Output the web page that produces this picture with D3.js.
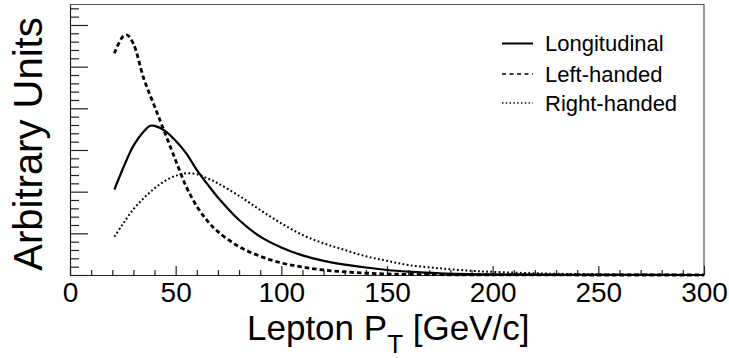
<!DOCTYPE html>
<html lang="en">
<head>
<meta charset="utf-8">
<script src="https://d3js.org/d3.v7.min.js"></script>
<style>
  body { margin: 0; background: #fff; }
  svg text { font-family: "Liberation Sans", Arial, sans-serif; fill: #000; }
</style>
</head>
<body>
<div id="chart"></div>
<script>

// Lepton pT [GeV/c] sample points and the three helicity shapes (arbitrary units)
var ptLong  = [21, 25, 28, 30, 35, 38, 40, 45, 50, 55, 60, 65, 70, 80, 90, 100, 110, 120, 130, 140, 150, 160, 175, 200, 250, 300];
var longitudinal = [2.05, 2.55, 2.9, 3.1, 3.45, 3.58, 3.58, 3.46, 3.22, 2.92, 2.52, 2.18, 1.86, 1.32, 0.92, 0.66, 0.47, 0.34, 0.25, 0.18, 0.12, 0.08, 0.04, 0.015, 0.003, 0];

var ptLeft = [21, 25, 27, 30, 35, 40, 45, 50, 55, 60, 65, 70, 80, 90, 100, 110, 120, 130, 140, 150, 160, 180, 200, 300];
var leftHanded = [5.32, 5.72, 5.76, 5.55, 4.7, 4.05, 3.4, 2.75, 2.12, 1.65, 1.3, 1.04, 0.68, 0.45, 0.29, 0.19, 0.12, 0.075, 0.045, 0.025, 0.015, 0.005, 0.002, 0];

var ptRight = [21, 25, 30, 35, 40, 45, 50, 55, 60, 65, 70, 80, 90, 100, 110, 120, 130, 140, 150, 160, 175, 190, 200, 225, 250, 275, 300];
var rightHanded = [0.92, 1.22, 1.58, 1.85, 2.08, 2.26, 2.38, 2.44, 2.42, 2.32, 2.2, 1.9, 1.56, 1.24, 0.96, 0.76, 0.6, 0.45, 0.34, 0.24, 0.16, 0.1, 0.075, 0.035, 0.015, 0.005, 0.002];

var xMajor = [0, 50, 100, 150, 200, 250, 300];
var legendNames = ["Longitudinal", "Left-handed", "Right-handed"];

var W = 729, H = 358;
var padL = 70, padR = 704, padT = 4.5, padB = 275;

var svg = d3.select("#chart").append("svg")
    .attr("width", W)
    .attr("height", H);

var yMax = (padB - padT) / 41.67;
var x = d3.scaleLinear().domain([0, 300]).range([padL, padR]);
var y = d3.scaleLinear().domain([0, yMax]).range([padB, padT]);

// frame (top and right)
svg.append("path")
    .attr("d", "M" + padL + "," + padT + "H" + padR + "V" + padB)
    .attr("fill", "none")
    .attr("stroke", "#555")
    .attr("stroke-width", 1.2);

// x axis: minor then major ticks
var xMinor = d3.range(0, 301, 10).filter(function(d) { return d % 50 !== 0; });
svg.append("g")
    .attr("transform", "translate(0," + padB + ")")
    .call(d3.axisBottom(x).tickValues(xMinor).tickSize(-5).tickFormat(""))
    .call(function(g) { g.select(".domain").remove(); });

var xAxis = svg.append("g")
    .attr("transform", "translate(0," + padB + ")")
    .call(d3.axisBottom(x).tickValues(xMajor).tickSize(-9).tickSizeOuter(0).tickPadding(7).tickFormat(d3.format("d")));
xAxis.selectAll("text").style("font-size", "28px");

// y axis: no labels, major every 1 unit, 5 minor per major
var yMinor = d3.range(0, yMax, 0.2).filter(function(d) { return Math.abs(d - Math.round(d)) > 0.01; });
svg.append("g")
    .attr("transform", "translate(" + padL + ",0)")
    .call(d3.axisLeft(y).tickValues(yMinor).tickSize(-9).tickFormat(""))
    .call(function(g) { g.select(".domain").remove(); });
svg.append("g")
    .attr("transform", "translate(" + padL + ",0)")
    .call(d3.axisLeft(y).tickValues(d3.range(0, 7)).tickSize(-18).tickSizeOuter(0).tickFormat(""));

svg.selectAll(".domain, .tick line").attr("stroke", "#222").attr("stroke-width", 1.2);

// curves
var series = [
  { xs: ptLong, ys: longitudinal, dash: null, width: 2.2 },
  { xs: ptLeft, ys: leftHanded, dash: "4.5,3", width: 2.8 },
  { xs: ptRight, ys: rightHanded, dash: "1.8,2.4", width: 2 }
];

var line = d3.line()
    .x(function(d) { return x(d[0]); })
    .y(function(d) { return y(Math.max(d[1], 0)); })
    .curve(d3.curveCatmullRom.alpha(0.5));

series.forEach(function(s) {
  svg.append("path")
      .datum(d3.zip(s.xs, s.ys))
      .attr("d", line)
      .attr("fill", "none")
      .attr("stroke", "#000")
      .attr("stroke-width", s.width)
      .attr("stroke-dasharray", s.dash);
});

// legend
var legend = svg.append("g");
var legendY = [43.5, 74, 103];
legendNames.forEach(function(name, i) {
  legend.append("line")
      .attr("x1", 502).attr("x2", 533)
      .attr("y1", legendY[i]).attr("y2", legendY[i])
      .attr("stroke", "#000")
      .attr("stroke-width", i === 0 ? 2 : (i === 1 ? 1.6 : 1.4))
      .attr("stroke-dasharray", series[i].dash ? (i === 1 ? "4,3.5" : "1.4,2.4") : null);
  legend.append("text")
      .attr("x", 545)
      .attr("y", legendY[i] + 7.5)
      .style("font-size", "22px")
      .text(name);
});

// axis titles
var xTitle = svg.append("text")
    .attr("x", 247)
    .attr("y", 340)
    .style("font-size", "35px");
xTitle.append("tspan").text("Lepton P");
xTitle.append("tspan").attr("dy", 13).style("font-size", "26px").text("T");
xTitle.append("tspan").attr("dy", -13).text(" [GeV/c]");

svg.append("text")
    .attr("transform", "translate(42,144) rotate(-90)")
    .attr("text-anchor", "middle")
    .style("font-size", "40px")
    .text("Arbitrary Units");

</script>
</body>
</html>
